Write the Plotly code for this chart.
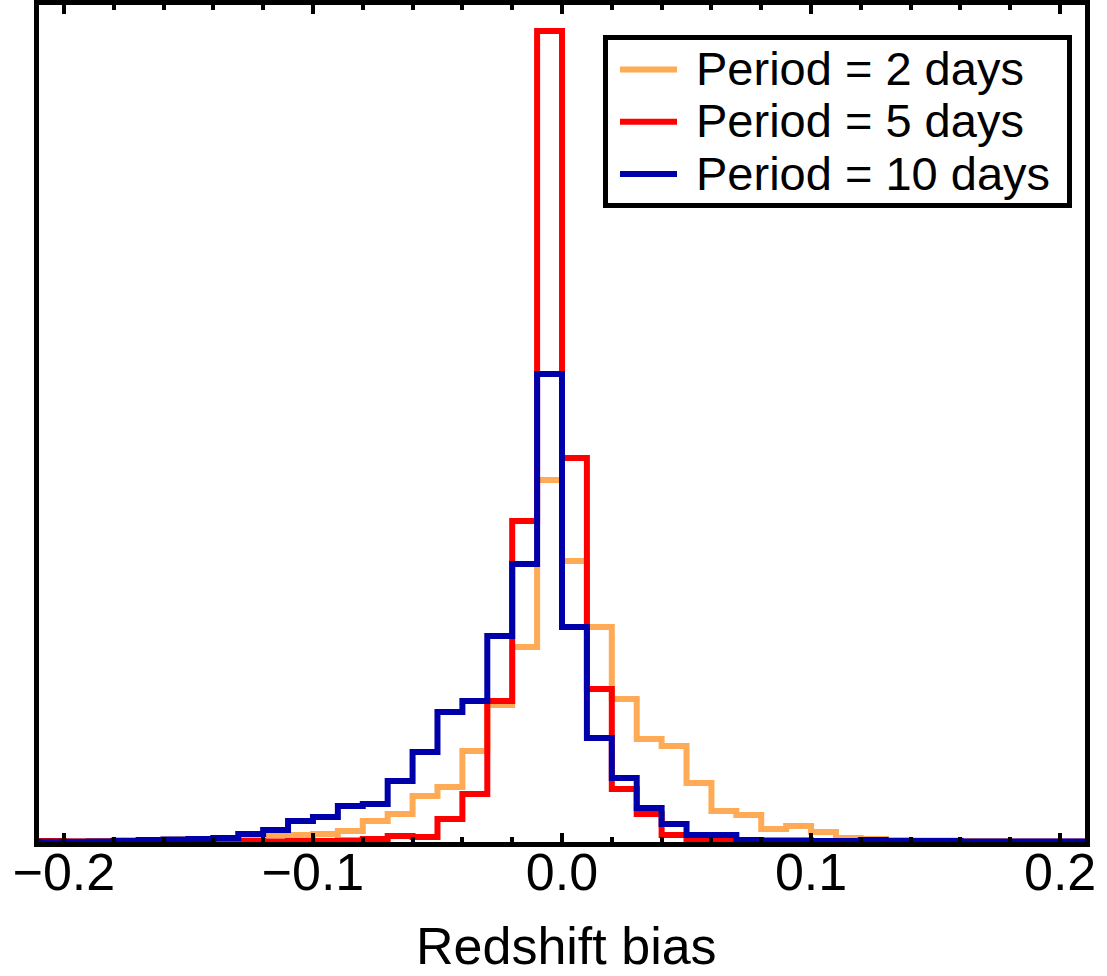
import plotly.graph_objects as go

# Bin edges of the histograms (redshift bias), width 0.01
bin_edges = [-0.21, -0.20, -0.19, -0.18, -0.17, -0.16, -0.15, -0.14, -0.13, -0.12,
             -0.11, -0.10, -0.09, -0.08, -0.07, -0.06, -0.05, -0.04, -0.03, -0.02,
             -0.01, 0.00, 0.01, 0.02, 0.03, 0.04, 0.05, 0.06, 0.07, 0.08,
             0.09, 0.10, 0.11, 0.12, 0.13, 0.14, 0.15, 0.16, 0.17, 0.18,
             0.19, 0.20, 0.21]

# Bin heights (arbitrary units) for each series, one per bin
period_2_days = [0.5, 0.5, 1, 2, 2, 2.5, 3, 4, 4, 6.5,
                 7, 8, 11, 21, 28, 46, 55, 91, 137, 195,
                 362, 281, 215, 143, 103, 96, 59, 31, 27, 13,
                 16, 10, 4, 3, 2, 1.5, 1.5, 0.5, 0.5, 0.3,
                 0.3, 0.3]
period_5_days = [1, 0.5, 0.5, 0.5, 0.3, 0.3, 0.3, 0.5, 1, 0.5,
                 1, 1, 1.5, 3, 6, 5, 23, 48, 141, 321,
                 811, 384, 153, 53, 28, 7, 2, 2, 1, 0.5,
                 0.5, 1, 0.3, 0.3, 0.3, 0.3, 0.3, 0.3, 0.3, 0.3,
                 0.3, 0.3]
period_10_days = [0.3, 0.3, 0.5, 1, 2, 2.5, 3, 4, 8, 12,
                  21, 25, 36, 38, 61, 90, 130, 141, 206, 278,
                  468, 215, 104, 64, 34, 18, 7, 7, 2, 1.5,
                  1.5, 1, 1, 2, 1, 1, 1, 0.5, 0.5, 0.5,
                  0.5, 0.5]

series_names = ["Period = 2 days", "Period = 5 days", "Period = 10 days"]
series_values = [period_2_days, period_5_days, period_10_days]
series_colors = ["#ffaa55", "#ff0000", "#0000aa"]

tick_values = [-0.2, -0.1, 0.0, 0.1, 0.2]
tick_labels = ["\u22120.2", "\u22120.1", "0.0", "0.1", "0.2"]

W, H = 1107, 976
L, R, T, B = 39, 22, 5, 134
PW, PH = W - L - R, H - T - B


def px_x(px):
    return (px - L) / PW


def px_y(py):
    return (H - B - py) / PH


font_family = "Liberation Sans, Arial, Helvetica, sans-serif"

fig = go.Figure()
for name, vals, color in zip(series_names, series_values, series_colors):
    fig.add_trace(go.Scatter(
        x=bin_edges,
        y=list(vals) + [vals[-1]],
        mode="lines",
        line=dict(shape="hv", color=color, width=6),
        name=name,
        hoverinfo="skip",
        showlegend=False,
    ))

shapes = []
annotations = []
# legend box
shapes.append(dict(type="rect", xref="paper", yref="paper",
                   x0=px_x(605.5), x1=px_x(1069.5), y0=px_y(37.5), y1=px_y(205.5),
                   line=dict(color="black", width=5), fillcolor="white", layer="above"))
legend_rows = [69.5, 121.7, 174]
for name, color, ry in zip(series_names, series_colors, legend_rows):
    shapes.append(dict(type="line", xref="paper", yref="paper",
                       x0=px_x(620), x1=px_x(677), y0=px_y(ry), y1=px_y(ry),
                       line=dict(color=color, width=6), layer="above"))
    annotations.append(dict(text=name, xref="paper", yref="paper",
                            x=px_x(694), y=px_y(ry - 1), xanchor="left", yanchor="middle",
                            showarrow=False,
                            font=dict(size=47, family=font_family, color="black")))

# x-axis title
annotations.append(dict(text="Redshift bias", xref="paper", yref="paper",
                        x=px_x(566), y=px_y(946), xanchor="center", yanchor="middle",
                        showarrow=False, borderpad=0,
                        font=dict(size=52, family=font_family, color="black")))

fig.update_layout(
    width=W, height=H,
    margin=dict(l=L, r=R, t=T, b=B),
    plot_bgcolor="white", paper_bgcolor="white",
    font=dict(family=font_family, color="black"),
    showlegend=False,
    shapes=shapes,
    annotations=annotations,
    xaxis=dict(
        range=[-0.21, 0.21],
        tickvals=tick_values,
        ticktext=tick_labels,
        ticks="inside", ticklen=9, tickwidth=4, tickcolor="black",
        minor=dict(dtick=0.02, tick0=0, ticks="inside", ticklen=5, tickwidth=4, tickcolor="black"),
        showline=True, linewidth=5, linecolor="black", mirror="allticks",
        showgrid=False, zeroline=False,
        tickfont=dict(size=52, family=font_family, color="black"),
        ticklabelstandoff=-19,
        automargin=False,
    ),
    yaxis=dict(
        range=[0, 837],
        showticklabels=False, ticks="",
        showline=True, linewidth=5, linecolor="black", mirror=True,
        showgrid=False, zeroline=False,
        automargin=False,
    ),
)

fig.write_html("out.html")
